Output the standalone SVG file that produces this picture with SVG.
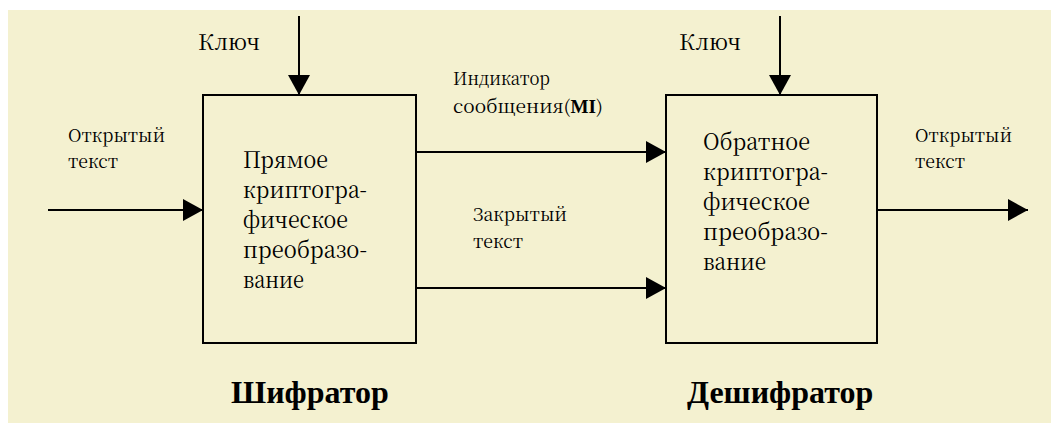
<svg xmlns="http://www.w3.org/2000/svg" width="1051" height="423" viewBox="0 0 1051 423">
<style>
.lbl{font-family:"Liberation Serif","Times New Roman",serif;fill:#000}
.n2{font-family:"Noto Serif CJK SC","Noto Serif CJK JP","Liberation Serif",serif}
.s{font-size:18px}
.k{font-size:22px}
.b{font-size:23px}
.mi{font-family:"Liberation Serif",serif;font-weight:bold}
.t{font-family:"Liberation Serif","Times New Roman",serif;font-size:32px;font-weight:bold}
.box{fill:none;stroke:#000;stroke-width:2}
.ln{stroke:#000;stroke-width:2;fill:none;marker-end:url(#ah)}
</style>
<defs>
<marker id="ah" markerUnits="userSpaceOnUse" markerWidth="20" markerHeight="22" refX="20" refY="11" orient="auto">
<path d="M0,0 L20,11 L0,22 z" fill="#000"/>
</marker>
</defs>
<rect x="0" y="0" width="1051" height="423" fill="#fff"/>
<rect x="8" y="10" width="1043" height="413" fill="#F4F1D0"/>
<g id="connectors">
<line class="ln" x1="299" y1="16" x2="299" y2="95"/>
<line class="ln" x1="780" y1="16" x2="780" y2="95"/>
<line class="ln" x1="48" y1="210" x2="203" y2="210"/>
<line class="ln" x1="416" y1="152" x2="666" y2="152"/>
<line class="ln" x1="416" y1="288" x2="666" y2="288"/>
<line class="ln" x1="877" y1="210" x2="1028" y2="210"/>
</g>
<g id="encoder">
<rect class="box" x="203" y="95" width="213" height="248"/>
<text class="lbl b n2" x="243" y="168" textLength="85" lengthAdjust="spacingAndGlyphs">Прямое</text>
<text class="lbl b n2" x="243" y="198" textLength="124" lengthAdjust="spacingAndGlyphs">криптогра-</text>
<text class="lbl b n2" x="243" y="228" textLength="105" lengthAdjust="spacingAndGlyphs">фическое</text>
<text class="lbl b n2" x="243" y="258" textLength="124" lengthAdjust="spacingAndGlyphs">преобразо-</text>
<text class="lbl b n2" x="243" y="288" textLength="61" lengthAdjust="spacingAndGlyphs">вание</text>
<text class="t" x="231" y="403">Шифратор</text>
</g>
<g id="decoder">
<rect class="box" x="666" y="95" width="211" height="248"/>
<text class="lbl b n2" x="703" y="150" textLength="107" lengthAdjust="spacingAndGlyphs">Обратное</text>
<text class="lbl b n2" x="703" y="180" textLength="125" lengthAdjust="spacingAndGlyphs">криптогра-</text>
<text class="lbl b n2" x="703" y="210" textLength="107" lengthAdjust="spacingAndGlyphs">фическое</text>
<text class="lbl b n2" x="703" y="240" textLength="125" lengthAdjust="spacingAndGlyphs">преобразо-</text>
<text class="lbl b n2" x="703" y="270" textLength="63" lengthAdjust="spacingAndGlyphs">вание</text>
<text class="t" x="687" y="403">Дешифратор</text>
</g>
<g id="labels">
<text class="lbl k n2" x="198" y="50" textLength="62" lengthAdjust="spacingAndGlyphs">Ключ</text>
<text class="lbl k n2" x="679" y="50" textLength="62" lengthAdjust="spacingAndGlyphs">Ключ</text>
<text class="lbl s n2" x="68" y="142" textLength="97" lengthAdjust="spacingAndGlyphs">Открытый</text>
<text class="lbl s n2" x="68" y="168" textLength="50" lengthAdjust="spacingAndGlyphs">текст</text>
<text class="lbl s n2" x="915" y="142" textLength="97" lengthAdjust="spacingAndGlyphs">Открытый</text>
<text class="lbl s n2" x="915" y="168" textLength="50" lengthAdjust="spacingAndGlyphs">текст</text>
<text class="lbl s n2" x="453" y="85" textLength="97" lengthAdjust="spacingAndGlyphs">Индикатор</text>
<text class="lbl s n2" x="453" y="113" textLength="150" lengthAdjust="spacingAndGlyphs">сообщения(<tspan class="mi">MI</tspan>)</text>
<text class="lbl s n2" x="473" y="221" textLength="94" lengthAdjust="spacingAndGlyphs">Закрытый</text>
<text class="lbl s n2" x="473" y="248" textLength="50" lengthAdjust="spacingAndGlyphs">текст</text>
</g>
</svg>
